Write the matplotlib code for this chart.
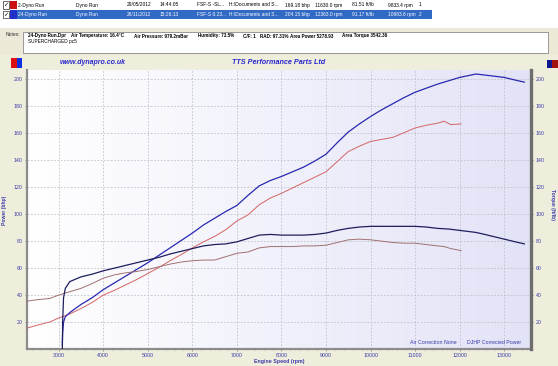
import matplotlib.pyplot as plt
import numpy as np
from matplotlib.patches import Rectangle

W, H = 558, 366

# ---- run 2 (red) ----
rpm_red = [2290, 2500, 2800, 3000, 3250, 3500, 3750, 4000, 4250, 4500, 4750, 5000,
           5250, 5500, 5750, 6000, 6250, 6500, 6750, 7000, 7250, 7500, 7750, 8000,
           8250, 8500, 8750, 9000, 9250, 9500, 9750, 10000, 10250, 10500, 10750,
           11000, 11250, 11500, 11650, 11800, 12030]
power_red = [15.5, 17.5, 20, 23, 26, 30, 34.5, 40, 43.5, 47.5, 51.5, 56,
             60.5, 65.5, 70, 75, 79.5, 83.5, 88.5, 95, 99.5, 107, 112, 115.5,
             119.5, 123.5, 127.5, 131.5, 139, 146.5, 150.5, 154, 155.5, 157, 160.5,
             164, 166, 167.5, 169, 166.5, 167]
torque_red = [35.5, 36.5, 37.5, 40, 42.5, 45, 48.5, 52.5, 55, 56.5, 57.5, 59,
              61, 63, 64.5, 65.5, 66, 66, 68.5, 71, 72, 75, 76, 76,
              76, 76.5, 76.5, 77, 79, 81, 81.5, 81, 80, 79, 78.5,
              78.5, 77.5, 76.5, 76, 74.5, 73]

# ---- run 24 (blue) ----
rpm_blue = [3083, 3090, 3110, 3150, 3250, 3500, 3750, 4000, 4250, 4500, 4750, 5000,
            5250, 5500, 5750, 6000, 6250, 6500, 6750, 7000, 7250, 7500, 7750, 8000,
            8250, 8500, 8750, 9000, 9250, 9500, 9750, 10000, 10250, 10500, 10750,
            11000, 11250, 11500, 11750, 12000, 12363, 12500, 12750, 13000, 13250, 13450]
power_blue = [3, 12, 20, 24, 27, 33, 38, 44, 49, 54, 59, 64,
              69.5, 75, 80.5, 86, 92, 97, 102, 106.5, 114, 121, 125, 128,
              131.5, 135, 139.5, 144.5, 153, 161, 167, 172.5, 177.5, 182, 186.5,
              190.5, 193.5, 196.5, 199, 201.5, 204, 203.5, 202.5, 201.5, 199.5, 198]
torque_blue = [0, 20, 38, 45, 50, 53.5, 55.5, 58, 60, 62, 64, 66,
               68, 70.5, 72.5, 74.5, 76.5, 77.5, 78, 79.5, 82, 84.5, 85, 84.5,
               84.5, 84.5, 85, 86, 88, 89.5, 90.5, 91, 91, 91, 91,
               91, 90.5, 89.5, 89, 88, 86.5, 85.5, 83.5, 81.5, 79.5, 78]

row_cols = [18, 76, 127, 160, 197, 229, 285, 315, 352, 388, 419]
row1 = ["2-Dyno Run", "Dyno Run", "29/05/2012", "14:44:05", "FSF-S -SL...",
        "H:\\Documents and S...", "169.18 bhp", "11630.0 rpm", "81.51 ft/lb",
        "9833.4 rpm", "1"]
row2 = ["24-Dyno Run", "Dyno Run", "26/11/2012", "15:26:13", "FSF-S 0.23...",
        "H:\\Documents and S...", "204.15 bhp", "12363.0 rpm", "91.17 ft/lb",
        "10983.6 rpm", "2"]

notes_x = [28, 71, 134, 198, 243, 260, 290, 342]
notes = ["24-Dyno Run.Dpr", "Air Temperature: 16.4°C", "Air Pressure: 979.2mBar",
         "Humidity: 73.5%", "C/F: 1", "RAD: 97.31%", "Area Power 5278.93",
         "Area Torque 3542.36"]


def fx(x):
    return x / W


def fy(y):
    return 1 - y / H


def box(fig, x0, y0, x1, y1, fc, ec='none', lw=0):
    fig.add_artist(Rectangle((fx(x0), fy(y1)), (x1 - x0) / W, (y1 - y0) / H,
                             transform=fig.transFigure, facecolor=fc,
                             edgecolor=ec, linewidth=lw))


plt.rcParams['font.family'] = ['Liberation Sans', 'DejaVu Sans']

fig = plt.figure(figsize=(W / 100, H / 100), dpi=100)
fig.patch.set_facecolor('#efeedd')

# file list at the top
box(fig, 0, 0, W, 28, 'white')
box(fig, 17, 10, 432, 19, '#316ac5')
for i, (row, sw) in enumerate([(row1, '#cc1010'), (row2, '#2030c8')]):
    yc = 5 + 9.5 * i
    box(fig, 3, yc - 3.5, 9, yc + 3.5, 'white', '#333333', 0.5)
    fig.text(fx(6), fy(yc), '✓', fontsize=4.5, ha='center', va='center',
             family='DejaVu Sans', fontweight='bold')
    box(fig, 10, yc - 4, 17, yc + 4, sw)
    tc = 'black' if i == 0 else 'white'
    for x, s in zip(row_cols, row):
        fig.text(fx(x), fy(yc), s, fontsize=3.5, color=tc, va='center')

# notes panel
box(fig, 0, 28, W, 55, '#ece9d8')
box(fig, 23, 32, 548, 53, 'white', '#8a8a8a', 0.6)
fig.text(fx(6), fy(35), 'Notes:', fontsize=3.6, va='center', color='#333333')
for x, s in zip(notes_x, notes):
    fig.text(fx(x), fy(36), s, fontsize=3.3, fontweight='bold', va='center')
fig.text(fx(28), fy(42), 'SUPERCHARGED pc5', fontsize=3.4, va='center')

# chart header
box(fig, 11, 58, 17, 68, '#dd1010')
box(fig, 17, 58, 22, 68, '#1030dd')
box(fig, 547, 60, 552, 68, '#101890')
box(fig, 552, 60, 558, 68, '#a01010')
fig.text(fx(60), fy(62.5), 'www.dynapro.co.uk', fontsize=5, fontweight='bold',
         style='italic', color='#2a2acc', va='center')
fig.text(fx(279), fy(62.5), 'TTS Performance Parts Ltd', fontsize=5.2,
         fontweight='bold', style='italic', color='#2a2acc', va='center', ha='center')

ax = fig.add_axes([fx(27), fy(349), 504 / W, 279 / H])
ax.set_xlim(2290, 13600)
ax.set_ylim(0, 207)

grad = np.linspace(0, 1, 256).reshape(1, -1)
c0 = np.array([1.0, 1.0, 1.0])
c1 = np.array([0.89, 0.89, 0.97])
img = c0 + (c1 - c0) * grad[..., None]
ax.imshow(img, extent=[2290, 13600, 0, 207], aspect='auto', zorder=0)

ax.set_xticks(range(3000, 13001, 1000))
ax.set_xticks(range(2400, 13601, 200), minor=True)
ax.set_yticks(range(20, 201, 20))
ax.set_yticks(range(5, 206, 5), minor=True)
ax.grid(True, which='major', color='#c0c0cc', linestyle=(0, (2, 2)), linewidth=0.6)

ax.plot(rpm_red, power_red, color='#d46464', lw=0.7, zorder=3)
ax.plot(rpm_blue, power_blue, color='#2828b0', lw=0.9, zorder=4)

ax2 = ax.twinx()
ax2.set_ylim(0, 207)
ax2.set_yticks(range(20, 201, 20))
ax2.plot(rpm_red, torque_red, color='#a07070', lw=0.7, zorder=3)
ax2.plot(rpm_blue, torque_blue, color='#1e1e5e', lw=0.9, zorder=4)

lab = '#3a3aa8'
for a in (ax, ax2):
    a.spines['top'].set_visible(False)
ax.spines['right'].set_visible(False)
ax.spines['left'].set_color('#8c8c8c')
ax.spines['left'].set_linewidth(1.6)
ax.spines['bottom'].set_color('#8c8c8c')
ax.spines['bottom'].set_linewidth(1.6)
ax2.spines['left'].set_visible(False)
ax2.spines['bottom'].set_visible(False)
ax2.spines['right'].set_color('#6e6e6e')
ax2.spines['right'].set_linewidth(2.4)

ax.tick_params(which='major', length=1.6, width=0.5, color='#777777',
               labelsize=3.8, labelcolor=lab, pad=1.5)
ax.tick_params(which='minor', length=0.9, width=0.4, color='#777777')
ax2.tick_params(which='major', length=1.6, width=0.5, color='#777777',
                labelsize=3.8, labelcolor=lab, pad=1.8)

fig.text(fx(5), fy(210), 'Power (bhp)', rotation=90, fontsize=3.6,
         fontweight='bold', color=lab, ha='center', va='center')
fig.text(fx(552), fy(205), 'Torque (ft/lb)', rotation=270, fontsize=3.6,
         fontweight='bold', color=lab, ha='center', va='center')
fig.text(fx(279), fy(361), 'Engine Speed (rpm)', fontsize=3.8,
         fontweight='bold', color=lab, ha='center', va='center')
fig.text(fx(410), fy(343), 'Air Correction None', fontsize=3.8, color=lab, va='center')
fig.text(fx(467), fy(343), 'DJHP Corrected Power', fontsize=3.8, color=lab, va='center')

fig.savefig('out.png', dpi=100, facecolor=fig.get_facecolor())
